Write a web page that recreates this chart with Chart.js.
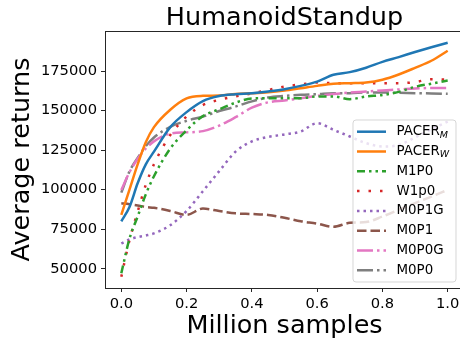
<!DOCTYPE html>
<html>
<head>
<meta charset="utf-8">
<script src="https://cdn.jsdelivr.net/npm/chart.js@4.4.1/dist/chart.umd.min.js"></script>
<style>
    html, body { margin: 0; padding: 0; background: #fff; overflow: hidden; width: 460px; height: 344px; }
    canvas { display: block; }
</style>
</head>
<body>
<canvas id="chart" width="470" height="344"></canvas>
<script>
const samples = [0, 0.025, 0.05, 0.075, 0.1, 0.15, 0.2, 0.25, 0.3, 0.35, 0.4, 0.45, 0.5, 0.55, 0.6, 0.65, 0.7, 0.75, 0.8, 0.85, 0.9, 0.95, 1.0];

const pacerM = [80000, 89000, 104000, 116000, 124000, 139500, 149000, 156000, 159200, 160300, 161000, 162100, 163500, 165600, 168300, 172600, 174300, 177100, 180800, 183800, 187000, 190000, 192900];
const pacerW = [84000, 100000, 116000, 130000, 139500, 150500, 157700, 159300, 159500, 160500, 160900, 161500, 162600, 164100, 165600, 166900, 167300, 167700, 169500, 172800, 177000, 181500, 187800];
const m1p0 = [47100, 69000, 83000, 97000, 108500, 126000, 137500, 146500, 150800, 155000, 157600, 157800, 157800, 157800, 158900, 158900, 157200, 158900, 159800, 161800, 165000, 167000, 169000];
const w1p0 = [44900, 68000, 86000, 103000, 116000, 134500, 146200, 153500, 156800, 159000, 160800, 163000, 165200, 166500, 167700, 167300, 167300, 167300, 167300, 167300, 168000, 169800, 169600];
const m0p1g = [66000, 68500, 70000, 71000, 72300, 77500, 86500, 99000, 111700, 124000, 130500, 133300, 134900, 136800, 142000, 137800, 133600, 129400, 127300, 128200, 133000, 138200, 143000];
const m0p1 = [91400, 90800, 90000, 89000, 88500, 86500, 84000, 88000, 86500, 85000, 84600, 84000, 82200, 80000, 78500, 76500, 79000, 79500, 83000, 87300, 91500, 95600, 99800];
const m0p0g = [99800, 111000, 119500, 126000, 130500, 135400, 136200, 137000, 140500, 145800, 151800, 155200, 156400, 157800, 159300, 160400, 161400, 162000, 162700, 163300, 164000, 164200, 164200];
const m0p0 = [98100, 111500, 120000, 127500, 133000, 139700, 143500, 146200, 149700, 152500, 155800, 158300, 159300, 160000, 160400, 161000, 161000, 161400, 161400, 161200, 161000, 160800, 160600];

const xTicks = [0, 0.2, 0.4, 0.6, 0.8, 1.0];
const yTicks = [50000, 75000, 100000, 125000, 150000, 175000];

// legend text: [main, subscript]
const names = [['PACER', 'M'], ['PACER', 'W'], ['M1P0', ''], ['W1p0', ''], ['M0P1G', ''], ['M0P1', ''], ['M0P0G', ''], ['M0P0', '']];

const FONT = '"DejaVu Sans", sans-serif';
const LW = 2.5;

function series(values, color, dash) {
    return {
        data: samples.map((x, i) => ({ x: x, y: values[i] })),
        borderColor: color,
        borderWidth: LW,
        borderDash: dash,
        borderCapStyle: 'butt',
        pointRadius: 0,
        fill: false,
        cubicInterpolationMode: 'monotone'
    };
}

const datasets = [
    series(pacerM, '#1f77b4', []),
    series(pacerW, '#ff7f0e', []),
    series(m1p0, '#2ca02c', [8, 4, 2.5, 4, 2.5, 4]),
    series(w1p0, '#d62728', [2.5, 9]),
    series(m0p1g, '#9467bd', [2.5, 4]),
    series(m0p1, '#8c564b', [9.5, 4]),
    series(m0p0g, '#e377c2', [16, 4, 2.5, 4]),
    series(m0p0, '#7f7f7f', [16, 4, 2.5, 4])
];

const decor = {
    id: 'decor',
    afterDraw(chart) {
        const ctx = chart.ctx;
        const a = chart.chartArea;
        ctx.save();

        // axes box
        ctx.strokeStyle = '#262626';
        ctx.lineWidth = 1;
        ctx.strokeRect(a.left + 0.5, a.top + 0.5, a.right - a.left - 1, a.bottom - a.top);

        // title and axis labels
        ctx.fillStyle = '#000';
        ctx.font = '25.5px ' + FONT;
        ctx.textAlign = 'center';
        ctx.textBaseline = 'alphabetic';
        ctx.fillText('HumanoidStandup', (a.left + a.right) / 2, 25);
        ctx.fillText('Million samples', (a.left + a.right) / 2, 333);
        ctx.save();
        ctx.translate(29, (a.top + a.bottom) / 2);
        ctx.rotate(-Math.PI / 2);
        ctx.fillText('Average returns', 0, 0);
        ctx.restore();

        // legend
        const bx = 353, by = 120, bw = 103, bh = 162, r = 3;
        ctx.beginPath();
        ctx.moveTo(bx + r, by);
        ctx.arcTo(bx + bw, by, bx + bw, by + bh, r);
        ctx.arcTo(bx + bw, by + bh, bx, by + bh, r);
        ctx.arcTo(bx, by + bh, bx, by, r);
        ctx.arcTo(bx, by, bx + bw, by, r);
        ctx.closePath();
        ctx.fillStyle = 'rgba(255,255,255,0.8)';
        ctx.fill();
        ctx.strokeStyle = 'rgba(204,204,204,0.8)';
        ctx.stroke();

        names.forEach((n, i) => {
            const y = 131.7 + i * 19.8;
            const ds = datasets[i];
            ctx.beginPath();
            ctx.setLineDash(ds.borderDash);
            ctx.lineCap = 'butt';
            ctx.lineWidth = LW;
            ctx.strokeStyle = ds.borderColor;
            ctx.moveTo(357, y);
            ctx.lineTo(386, y);
            ctx.stroke();
            ctx.setLineDash([]);

            ctx.fillStyle = '#000';
            ctx.textAlign = 'left';
            ctx.textBaseline = 'middle';
            ctx.font = '13.4px ' + FONT;
            ctx.fillText(n[0], 396.5, y);
            if (n[1]) {
                const w = ctx.measureText(n[0]).width;
                ctx.font = 'italic 9.5px ' + FONT;
                ctx.fillText(n[1], 396.5 + w, y + 3.5);
            }
        });

        ctx.restore();
    }
};

new Chart(document.getElementById('chart'), {
    type: 'line',
    data: { datasets: datasets },
    options: {
        responsive: false,
        animation: false,
        devicePixelRatio: 1,
        layout: { padding: { top: 31, right: 6, left: 0, bottom: 0 } },
        plugins: {
            legend: { display: false },
            title: { display: false },
            tooltip: { enabled: false }
        },
        scales: {
            x: {
                type: 'linear',
                min: -0.05,
                max: 1.05,
                afterBuildTicks: s => { s.ticks = xTicks.map(v => ({ value: v })); },
                afterFit: s => { s.height = 56; },
                border: { display: false },
                grid: { drawOnChartArea: false, drawTicks: true, tickLength: 4, color: '#262626' },
                ticks: {
                    color: '#000',
                    font: { family: FONT, size: 14.7 },
                    padding: 3,
                    maxRotation: 0,
                    callback: v => v.toFixed(1)
                }
            },
            y: {
                type: 'linear',
                min: 37800,
                max: 200300,
                afterBuildTicks: s => { s.ticks = yTicks.map(v => ({ value: v })); },
                afterFit: s => { s.width = 105; },
                border: { display: false },
                grid: { drawOnChartArea: false, drawTicks: true, tickLength: 4, color: '#262626' },
                ticks: {
                    color: '#000',
                    font: { family: FONT, size: 14.7 },
                    padding: 4,
                    callback: v => String(v)
                }
            }
        }
    },
    plugins: [decor]
});
</script>
</body>
</html>
